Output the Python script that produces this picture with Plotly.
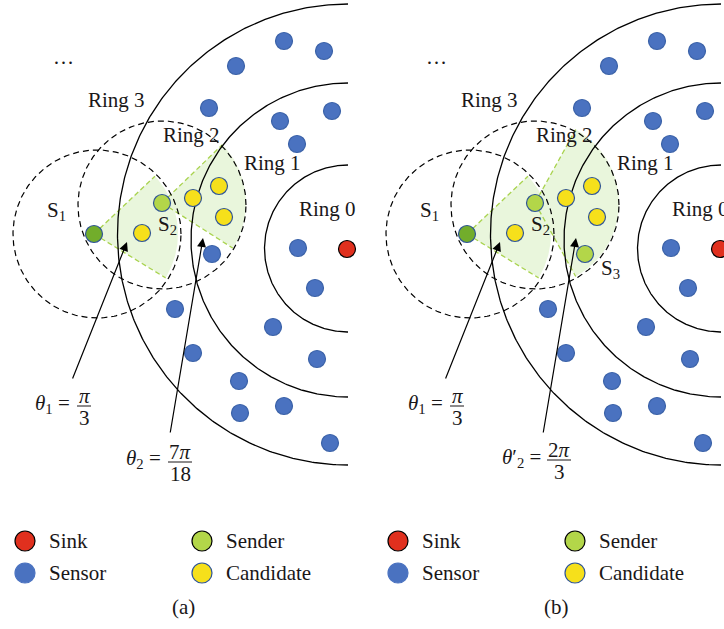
import numpy as np
import plotly.graph_objects as go

W, H = 724, 629
FONT = "Liberation Serif"
TXT = "#1a1718"

# ---------------- data (local panel coordinates, y grows downward) ----------------
# ring boundaries: left semicircles
ring_cx = [348, 348, 348]
ring_cy = [248.5, 240.0, 234.5]
ring_r = [83.5, 157.0, 230.5]

sink_x = [347]
sink_y = [249]
sensor_x = [284, 324, 236, 209, 280, 332, 297, 298, 315, 175, 273, 193, 317, 239, 240, 284, 330]
sensor_y = [41, 51, 66, 108, 121, 111, 144, 248, 288, 309, 327, 353, 359, 381, 413, 406, 443]
relay_x = [212]          # sensor in (a), becomes sender S3 in (b)
relay_y = [254]
candidate_x = [142, 193, 219, 224]
candidate_y = [233, 198, 186, 217]
s1_x, s1_y = [94], [234]
s2_x, s2_y = [162], [203]

# dashed communication-range circles
range_cx = [97, 162]
range_cy = [234, 205]
range_r = 84

# sectors: angles (deg, counter-clockwise from +x) for S1 and S2
sector_a_lo = [-31.5, -32.5]
sector_a_hi = [43.5, 44.0]
sector_b_lo = [-31.5, -61.0]
sector_b_hi = [43.5, 61.0]
sector_r = 84

ring_label_text = ["Ring 0", "Ring 1", "Ring 2", "Ring 3", "…"]
ring_label_x = [327, 272, 191, 116, 63]
ring_label_y = [209, 163, 135, 100, 57]

legend_text = ["Sink", "Sender", "Sensor", "Candidate"]
legend_x = [25, 202, 25, 202]
legend_y = [541, 541, 573, 573]

arrow1 = dict(tail=(72, 380), head=(127, 242))
arrow2 = dict(tail=(170, 434), head=(203, 238))

# colours
C_SINK, C_SENSOR, C_CAND = "#e0301e", "#4a72c0", "#f6e01b"
C_SEND, C_S1 = "#b3d649", "#72ad2b"
C_OUT = "#2f5597"
FILL = "rgba(232,245,218,0.95)"
EDGE = "#a9d34f"

fig = go.Figure()

def arc(cx, cy, r, a0, a1, n=200):
    t = np.radians(np.linspace(a0, a1, n))
    return cx + r * np.cos(t), cy - r * np.sin(t)

def draw_panel(xr, panel):
    axx = "x" if xr == "x" else "x2"
    los = sector_a_lo if panel == "a" else sector_b_lo
    his = sector_a_hi if panel == "a" else sector_b_hi
    apex = [(s1_x[0], s1_y[0]), (s2_x[0], s2_y[0])]
    for (ax_, ay_), lo, hi in zip(apex, los, his):
        px, py = arc(ax_, ay_, sector_r, lo, hi)
        fig.add_trace(go.Scatter(x=np.r_[ax_, px, ax_], y=np.r_[ay_, py, ay_], fill="toself",
                                 fillcolor=FILL, line=dict(width=0), mode="lines",
                                 xaxis=axx, yaxis="y", hoverinfo="skip"))
    for (ax_, ay_), lo, hi in zip(apex, los, his):
        for a in (lo, hi):
            ex, ey = arc(ax_, ay_, sector_r, a, a, 1)
            fig.add_trace(go.Scatter(x=[ax_, ex[0]], y=[ay_, ey[0]], mode="lines",
                                     line=dict(color=EDGE, width=1.3, dash="5px,3px"),
                                     xaxis=axx, yaxis="y", hoverinfo="skip"))
    for cx, cy, r in zip(ring_cx, ring_cy, ring_r):
        px, py = arc(cx, cy, r, 90, 270, 300)
        fig.add_trace(go.Scatter(x=px, y=py, mode="lines", line=dict(color="black", width=1.3),
                                 xaxis=axx, yaxis="y", hoverinfo="skip"))
    for cx, cy in zip(range_cx, range_cy):
        px, py = arc(cx, cy, range_r, 0, 360, 300)
        fig.add_trace(go.Scatter(x=px, y=py, mode="lines",
                                 line=dict(color="black", width=1.2, dash="6px,4px"),
                                 xaxis=axx, yaxis="y", hoverinfo="skip"))

    def dots(xs, ys, col, out, size=17):
        fig.add_trace(go.Scatter(x=xs, y=ys, mode="markers", cliponaxis=False,
                                 marker=dict(size=size, color=col, line=dict(color=out, width=1.2)),
                                 xaxis=axx, yaxis="y", hoverinfo="skip"))
    dots(sensor_x, sensor_y, C_SENSOR, "#3b62a8")
    if panel == "a":
        dots(relay_x, relay_y, C_SENSOR, "#3b62a8")
    else:
        dots(relay_x, relay_y, C_SEND, C_OUT)
    dots(candidate_x, candidate_y, C_CAND, C_OUT)
    dots(s2_x, s2_y, C_SEND, C_OUT)
    dots(s1_x, s1_y, C_S1, C_OUT)
    dots(sink_x, sink_y, C_SINK, "black")
    dots([legend_x[0]], [legend_y[0]], C_SINK, "black", 20)
    dots([legend_x[1]], [legend_y[1]], C_SEND, "black", 20)
    dots([legend_x[2]], [legend_y[2]], C_SENSOR, "#4a72c0", 20)
    dots([legend_x[3]], [legend_y[3]], C_CAND, C_OUT, 20)

    def txt(x, y, s, anchor="center", size=21):
        fig.add_annotation(x=x, y=y, xref=xr, yref="y", text=s, showarrow=False,
                           xanchor=anchor, yanchor="middle",
                           font=dict(family=FONT, size=size, color=TXT))
    for s, x, y in zip(ring_label_text, ring_label_x, ring_label_y):
        txt(x, y, s)
    for s, x, y in zip(legend_text, legend_x, legend_y):
        txt(x + 22, y, s, "left")
    txt(183, 607, "(a)" if panel == "a" else "(b)")
    txt(56, 211, "S<sub>1</sub>")
    txt(167, 225, "S<sub>2</sub>")
    if panel == "b":
        txt(237, 269, "S<sub>3</sub>")
    for a in (arrow1, arrow2):
        fig.add_annotation(x=a["head"][0], y=a["head"][1], ax=a["tail"][0], ay=a["tail"][1],
                           xref=xr, yref="y", axref=xr, ayref="y", text="", showarrow=True,
                           arrowhead=2, arrowsize=1.5, arrowwidth=1.2, arrowcolor="black",
                           standoff=0)

    def frac(xc, ybar, num, den, half):
        txt(xc, ybar - 10, num)
        txt(xc, ybar + 12, den)
        fig.add_shape(type="line", xref=xr, yref="y", x0=xc - half, x1=xc + half,
                      y0=ybar, y1=ybar, line=dict(color=TXT, width=1))
    txt(33, 404, "<i>θ</i><sub>1</sub> =", "left")
    frac(84, 406, "<i>π</i>", "3", 7)
    if panel == "a":
        txt(124, 459, "<i>θ</i><sub>2</sub> =", "left")
        frac(180, 462, "7<i>π</i>", "18", 12)
    else:
        txt(127, 458, "<i>θ</i>′<sub>2</sub> =", "left")
        frac(186, 460, "2<i>π</i>", "3", 12)

draw_panel("x", "a")
draw_panel("x2", "b")

ax_common = dict(showgrid=False, zeroline=False, showticklabels=False, showline=False,
                 ticks="", fixedrange=True)
fig.update_layout(
    width=W, height=H, margin=dict(l=0, r=0, t=0, b=0),
    paper_bgcolor="white", plot_bgcolor="white", showlegend=False,
    xaxis=dict(domain=[0, 350 / W], range=[0, 350], **ax_common),
    xaxis2=dict(domain=[373 / W, 1], range=[0, 351], anchor="y", **ax_common),
    yaxis=dict(domain=[0, 1], range=[H, 0], **ax_common),
)
fig.write_html("out.html", config={"displayModeBar": False},
               post_script="document.body.style.margin='0';document.body.style.overflow='hidden';")
